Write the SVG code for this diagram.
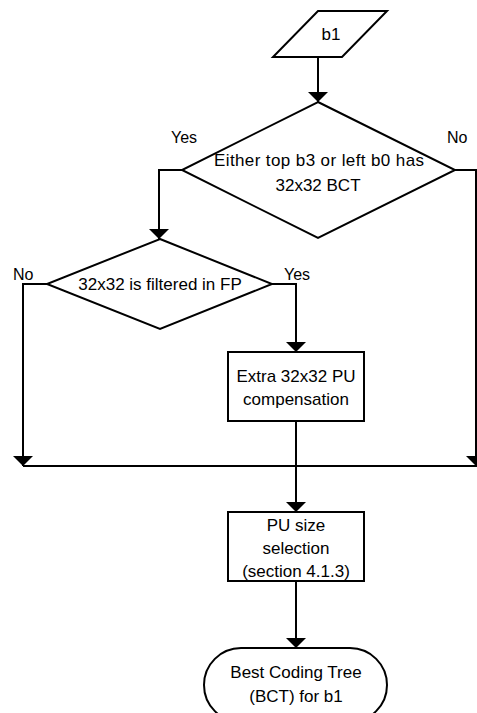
<svg xmlns="http://www.w3.org/2000/svg" width="477" height="713" viewBox="0 0 477 713">
  <style>
    .shape { fill: #ffffff; stroke: #000000; stroke-width: 2; }
    .wire { fill: none; stroke: #000000; stroke-width: 2; }
    text { font-family: "Liberation Sans", Arial, sans-serif; font-size: 17px; fill: #000000; }
    .lbl { font-size: 16px; }
    .c { text-anchor: middle; }
  </style>
  <defs>
    <marker id="arrow" viewBox="0 0 10 20" refX="10" refY="10" markerWidth="10" markerHeight="20" markerUnits="userSpaceOnUse" orient="auto">
      <path d="M0,0 L10,10 L0,20 z" fill="#000000"/>
    </marker>
  </defs>

  <rect x="0" y="0" width="477" height="713" fill="#ffffff"/>

  <!-- connectors -->
  <g id="connectors">
    <path class="wire" d="M318,57 V102" marker-end="url(#arrow)"/>
    <path class="wire" d="M182,170 H159 V239" marker-end="url(#arrow)"/>
    <path class="wire" d="M455,170 H476 V466" marker-end="url(#arrow)"/>
    <path class="wire" d="M47,284 H23 V466" marker-end="url(#arrow)"/>
    <path class="wire" d="M272,284 H296 V352" marker-end="url(#arrow)"/>
    <path class="wire" d="M23,466 H477"/>
    <path class="wire" d="M296,421 V512" marker-end="url(#arrow)"/>
    <path class="wire" d="M296,581 V648" marker-end="url(#arrow)"/>
    <text class="lbl" x="171" y="143">Yes</text>
    <text class="lbl" x="447" y="143">No</text>
    <text class="lbl" x="13" y="280">No</text>
    <text class="lbl" x="284" y="280">Yes</text>
  </g>

  <!-- input b1 -->
  <g id="input-b1">
    <polygon class="shape" points="318,11 387,11 342,57 273,57"/>
    <text class="c" x="331" y="40">b1</text>
  </g>

  <!-- decision: neighbour BCT -->
  <g id="decision-neighbour">
    <polygon class="shape" points="318,102 455,170 318,238 182,170"/>
    <text class="c" x="319" y="166" textLength="210" lengthAdjust="spacing">Either top b3 or left b0 has</text>
    <text class="c" x="318" y="191">32x32 BCT</text>
  </g>

  <!-- decision: filtered in FP -->
  <g id="decision-filtered">
    <polygon class="shape" points="160,239 272,284 160,329 47,284"/>
    <text class="c" x="160" y="290">32x32 is filtered in FP</text>
  </g>

  <!-- extra compensation -->
  <g id="extra-compensation">
    <rect class="shape" x="228" y="352" width="136" height="69"/>
    <text class="c" x="296" y="382">Extra 32x32 PU</text>
    <text class="c" x="296" y="405">compensation</text>
  </g>

  <!-- PU size selection -->
  <g id="pu-size-selection">
    <rect class="shape" x="228" y="512" width="136" height="69"/>
    <text class="c" x="296" y="531">PU size</text>
    <text class="c" x="296" y="554">selection</text>
    <text class="c" x="296" y="577">(section 4.1.3)</text>
  </g>

  <!-- terminator -->
  <g id="best-coding-tree">
    <rect class="shape" x="204" y="648" width="183" height="74" rx="37" ry="37"/>
    <text class="c" x="296" y="678">Best Coding Tree</text>
    <text class="c" x="296" y="702">(BCT) for b1</text>
  </g>
</svg>
